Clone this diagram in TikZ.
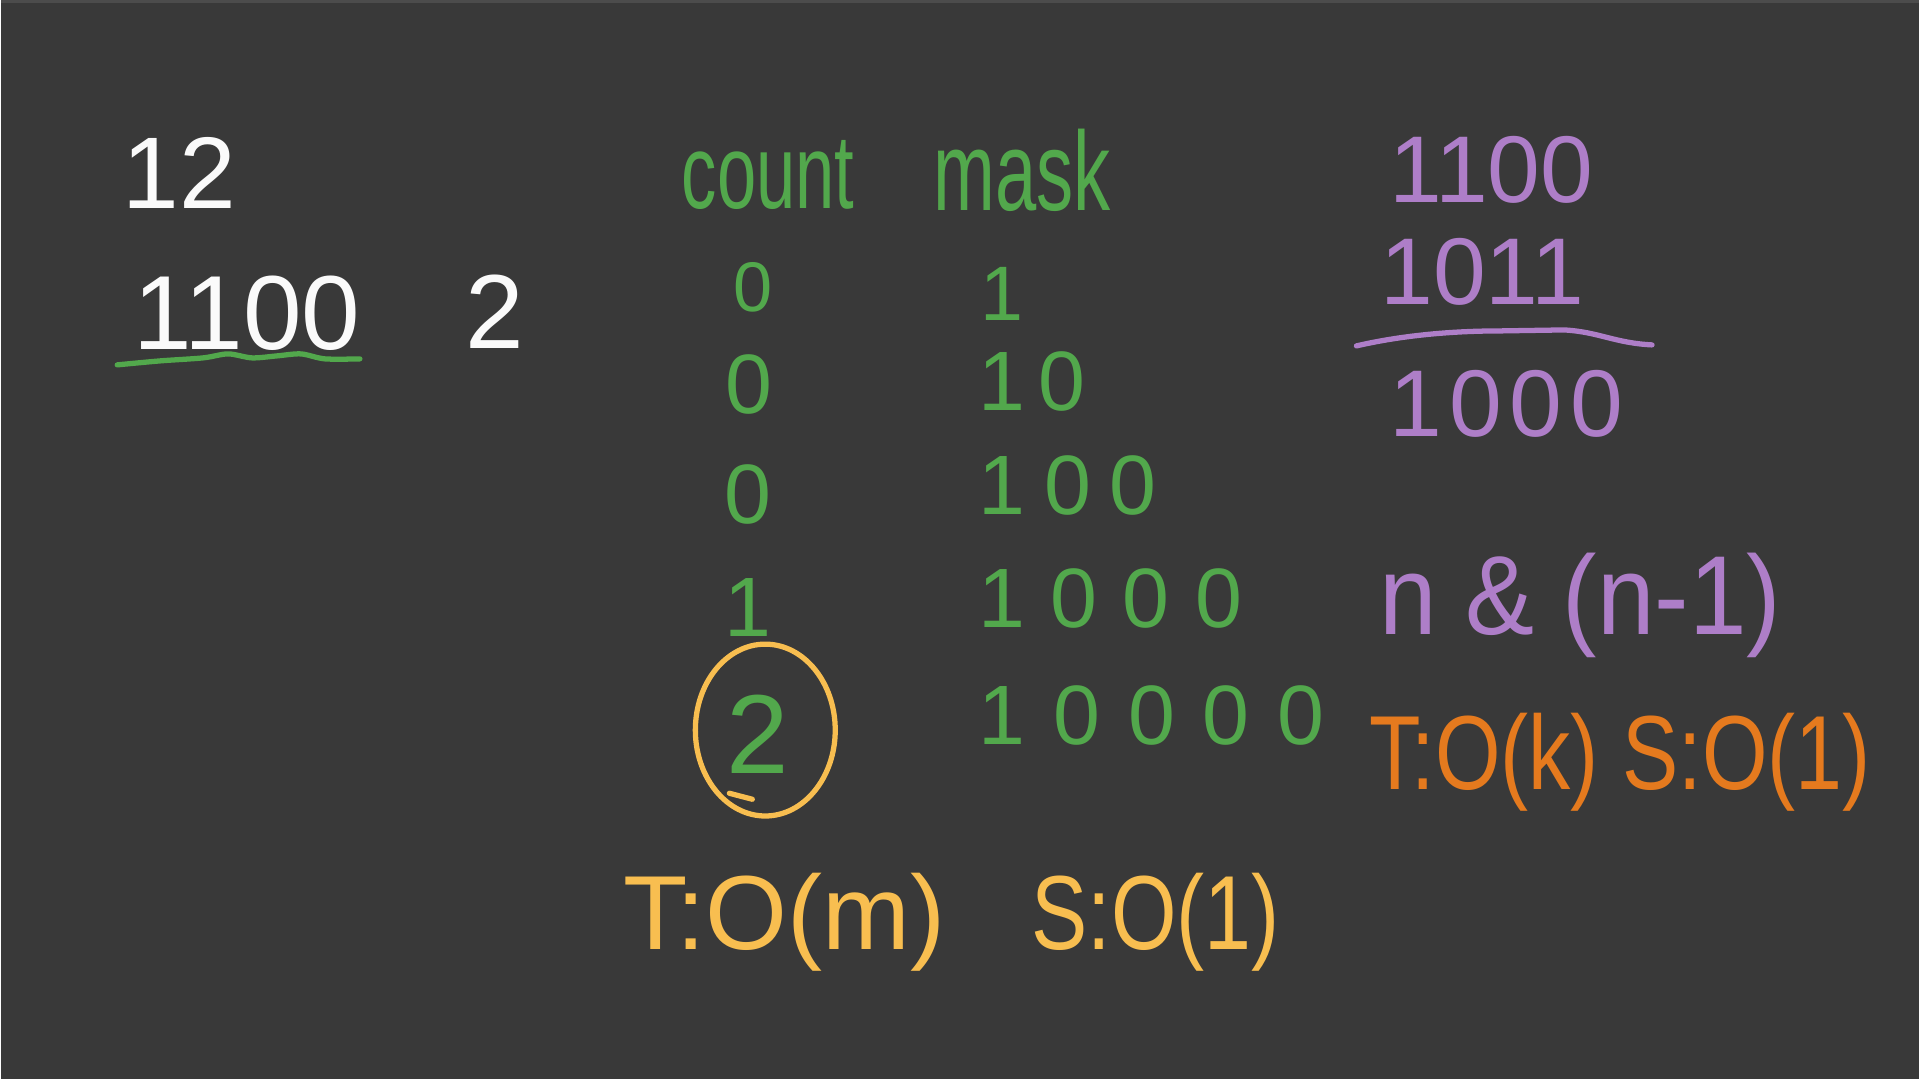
\documentclass[tikz,border=0pt]{standalone}
\usepackage{fontspec}
\setmainfont{Liberation Sans}
\usetikzlibrary{positioning}

\definecolor{board}{RGB}{57,57,57}
\definecolor{chalkwhite}{RGB}{250,250,250}
\definecolor{greenink}{RGB}{82,168,76}
\definecolor{purpleink}{RGB}{174,126,200}
\definecolor{orangeink}{RGB}{229,122,30}
\definecolor{yellowink}{RGB}{248,190,80}

\newcommand{\inksize}[1]{\fontsize{#1}{#1}\selectfont}
\newcommand{\narrow}[2]{\scalebox{#1}[1]{#2}}

\tikzset{
  ink/.style={inner sep=0pt, anchor=base},
  white ink/.style={ink, text=chalkwhite},
  green ink/.style={ink, text=greenink},
  purple ink/.style={ink, text=purpleink},
  orange ink/.style={ink, text=orangeink},
  yellow ink/.style={ink, text=yellowink},
  pen/.style={line width=1.5pt, line cap=round, line join=round}
}

\begin{document}
\begin{tikzpicture}[x=0.01cm, y=-0.01cm]
\fill[board] (0,0) rectangle (1920,1080);
\draw[black!70, line width=0.8pt] (0,1) -- (1920,1);

% number and its binary form
\node[white ink, font=\inksize{29}] (dec) at (178,208) {12};
\node[white ink, font=\inksize{30}] (bin) at (246,350) {1100};
\node[white ink, font=\inksize{30}] (ans) at (494,349) {2};
\draw[pen, greenink] plot[smooth] coordinates {(116,365) (159,361) (202,358) (227,354) (251,358) (276,356) (300,354) (324,359) (359,359)};

% count / mask table
\node[green ink, font=\inksize{30}] (count) at (768,208) {\narrow{.67}{count}};
\node[green ink, font=\inksize{32}] (mask) at (1022,210) {\narrow{.66}{mask}};

\foreach \v/\x/\y/\s [count=\i] in {0/753/312/20, 0/749/414/24, 0/748/524/24, 1/748/637/24, 2/757/774/32}
  \node[green ink, font=\inksize{\s}] (cnt\i) at (\x,\y) {\v};

\node[green ink, anchor=base west, font=\inksize{22}] (mask1) at (980,321) {1};
\node[green ink, anchor=base west, font=\inksize{24}\addfontfeature{LetterSpace=15}] (mask2) at (978,411) {10};
\node[green ink, anchor=base west, font=\inksize{24}\addfontfeature{LetterSpace=22}] (mask3) at (978,515) {100};
\node[green ink, anchor=base west, font=\inksize{24}\addfontfeature{LetterSpace=30}] (mask4) at (978,628) {1000};
\node[green ink, anchor=base west, font=\inksize{24}\addfontfeature{LetterSpace=33}] (mask5) at (978,745) {10000};

\draw[pen, yellowink] (cnt5.center) ++(8,-4) ellipse [x radius=0.7cm, y radius=0.86cm];
\draw[pen, yellowink] (729,794) -- (752,800);

\node[yellow ink, font=\inksize{30}] (timeA) at (784,950) {T:O(m)};
\node[yellow ink, font=\inksize{30}] (spaceA) at (1156,950) {\narrow{.8}{S:O(1)}};

% n & (n-1)
\node[purple ink, font=\inksize{27}] (numA) at (1492,202) {1100};
\node[purple ink, font=\inksize{27}] (numB) at (1483,305) {1011};
\draw[pen, purpleink] (1357,346) .. controls (1400,336) and (1450,331) .. (1500,331) -- (1565,330) .. controls (1600,332) and (1615,343) .. (1653,345);
\node[purple ink, font=\inksize{27}\addfontfeature{LetterSpace=8}] (numC) at (1507,437) {1000};
\node[purple ink, font=\inksize{32}] (trick) at (1581,635) {\narrow{.92}{n \& (n-1)}};
\node[orange ink, font=\inksize{30}] (timeB) at (1621,790) {\narrow{.8}{T:O(k) S:O(1)}};
\end{tikzpicture}
\end{document}
